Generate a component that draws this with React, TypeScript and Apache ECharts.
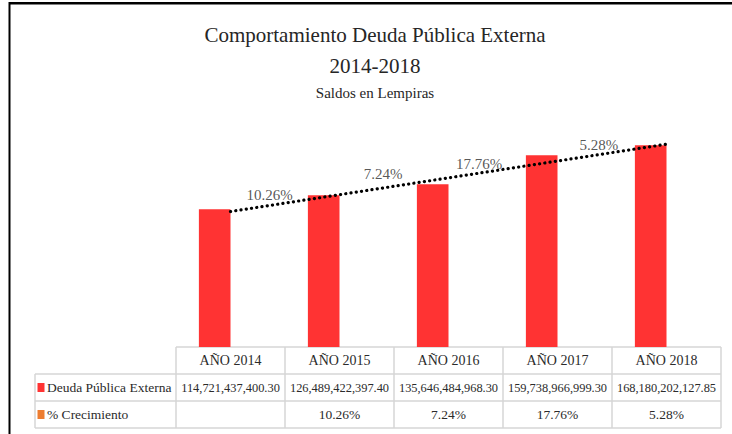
import React, { useEffect, useRef } from "react";
import * as echarts from "echarts";

// ---- Data ----
const years = ["AÑO 2014", "AÑO 2015", "AÑO 2016", "AÑO 2017", "AÑO 2018"];
const debt = [114721437400.3, 126489422397.4, 135646484968.3, 159738966999.3, 168180202127.85];
const growth: (number | null)[] = [null, 10.26, 7.24, 17.76, 5.28];
const seriesNames = ["Deuda Pública Externa", "% Crecimiento"];
// linear trendline endpoints, at first and last category
const trendEnds = [112.9e9, 169.0e9];
// where the growth annotations sit (category-fraction, value)
const growthLabelX = [0.36, 1.4, 2.28, 3.38];
const growthLabelY = [126.7e9, 144e9, 152.5e9, 168.3e9];

const titleLines = ["Comportamiento Deuda Pública Externa", "2014-2018", "Saldos en Lempiras"];

// ---- Layout ----
const W = 732;
const H = 434;
const gridLeft = 176;
const gridRight = 11;
const gridTop = 107;
const tableTop = 347;
const rowH = 27;
const labelColLeft = 35;
const FONT = "Liberation Serif";
const RED = "#ff3333";
const ORANGE = "#ed7d31";
const LINE = "#d6d6d6";
const TXT = "#2b2b2b";

const fmt = (v: number) =>
  v.toLocaleString("en-US", { minimumFractionDigits: 2, maximumFractionDigits: 2 });

const txt = (x: number, y: number, text: string, size: number, align: string, color = TXT) => ({
  type: "text",
  x,
  y,
  style: { text, fontFamily: FONT, fontSize: size, fill: color, align, verticalAlign: "middle" },
});

export default function App() {
  const ref = useRef<HTMLDivElement>(null);
  useEffect(() => {
    if (!ref.current) return;
    const chart = echarts.init(ref.current, null, { renderer: "svg" });
    const tableRight = W - gridRight;
    const colW = (tableRight - gridLeft) / years.length;
    const rows = [tableTop, tableTop + rowH, tableTop + 2 * rowH, tableTop + 3 * rowH];

    const g: any[] = [];
    // outer frame (top + left)
    g.push({ type: "rect", shape: { x: 9, y: 2, width: W - 9, height: 2.5 }, style: { fill: "#000" } });
    g.push({ type: "rect", shape: { x: 8.5, y: 2, width: 2, height: H }, style: { fill: "#000" } });
    // titles
    g.push(txt(375, 35, titleLines[0], 21, "center", "#262626"));
    g.push(txt(375, 66, titleLines[1], 21, "center", "#262626"));
    g.push(txt(375, 93, titleLines[2], 15, "center", "#262626"));

    // table lines
    const hl = (y: number, x1: number, x2: number) =>
      g.push({ type: "line", shape: { x1, y1: y, x2, y2: y }, style: { stroke: LINE, lineWidth: 1.5 } });
    const vl = (x: number, y1: number, y2: number) =>
      g.push({ type: "line", shape: { x1: x, y1, x2: x, y2 }, style: { stroke: LINE, lineWidth: 1.5 } });
    hl(rows[0], gridLeft, tableRight);
    hl(rows[1], labelColLeft, tableRight);
    hl(rows[2], labelColLeft, tableRight);
    hl(rows[3], labelColLeft, tableRight);
    vl(labelColLeft, rows[1], rows[3]);
    for (let i = 0; i <= years.length; i++) vl(gridLeft + i * colW, rows[0], rows[3]);

    // header texts
    years.forEach((y, i) => g.push(txt(gridLeft + (i + 0.5) * colW, rows[0] + rowH / 2, y, 14, "center")));
    // row 1
    g.push({ type: "rect", shape: { x: 37.5, y: rows[1] + 9, width: 7, height: 9 }, style: { fill: RED } });
    g.push(txt(47, rows[1] + rowH / 2, seriesNames[0], 13.5, "left"));
    debt.forEach((v, i) => g.push(txt(gridLeft + (i + 0.5) * colW, rows[1] + rowH / 2, fmt(v), 12.4, "center")));
    // row 2
    g.push({ type: "rect", shape: { x: 37.5, y: rows[2] + 9, width: 7, height: 9 }, style: { fill: ORANGE } });
    g.push(txt(47, rows[2] + rowH / 2, seriesNames[1], 13.5, "left"));
    growth.forEach((v, i) => {
      if (v == null) return;
      g.push(txt(gridLeft + (i + 0.5) * colW, rows[2] + rowH / 2, v.toFixed(2) + "%", 13.5, "center"));
    });

    chart.setOption({
      animation: false,
      backgroundColor: "#ffffff",
      grid: { left: gridLeft, right: gridRight, top: gridTop, bottom: H - tableTop, containLabel: false },
      xAxis: [
        { type: "category", data: years, show: false },
        { type: "value", min: -0.5, max: 4.5, show: false },
      ],
      yAxis: { type: "value", min: 0, max: 200e9, show: false },
      series: [
        {
          name: seriesNames[0],
          type: "bar",
          data: debt,
          barWidth: colW * 0.29,
          barGap: "0%",
          itemStyle: { color: RED },
        },
        {
          name: seriesNames[1],
          type: "bar",
          data: growth.map((v) => (v == null ? "-" : v)),
          barWidth: colW * 0.29,
          itemStyle: { color: "rgba(0,0,0,0)" },
        },
        {
          name: "Lineal (Deuda Pública Externa)",
          type: "line",
          data: [[0, trendEnds[0]], [years.length - 1, trendEnds[1]]],
          symbol: "none",
          lineStyle: { color: "#000", width: 3.2, type: [0.1, 5.2], cap: "round" },
          z: 5,
        },
        {
          name: "labels",
          type: "scatter",
          xAxisIndex: 1,
          symbolSize: 1,
          itemStyle: { color: "rgba(0,0,0,0)" },
          data: growthLabelX.map((x, i) => [x, growthLabelY[i], growth[i + 1]]),
          label: {
            show: true,
            position: "inside",
            formatter: (p: any) => (p.data[2] as number).toFixed(2) + "%",
            fontFamily: FONT,
            fontSize: 15,
            color: TXT,
          },
          z: 6,
        },
      ],
      graphic: g,
    });
    return () => chart.dispose();
  }, []);
  return <div ref={ref} style={{ position: "fixed", left: 0, top: 0, width: W, height: H }} />;
}
